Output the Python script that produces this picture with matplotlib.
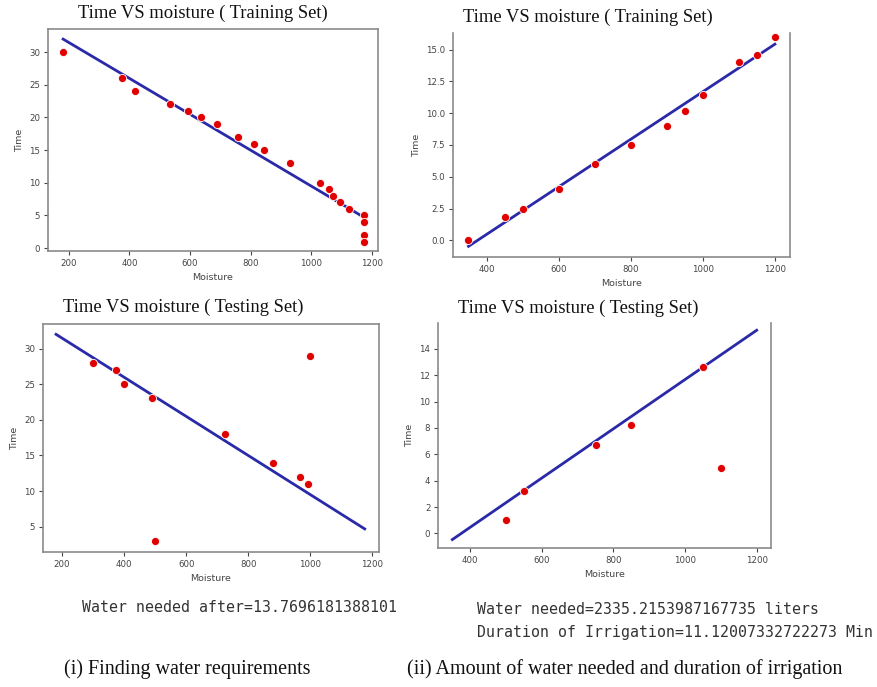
import numpy as np
import matplotlib
matplotlib.use("Agg")
import matplotlib.pyplot as plt
from matplotlib.ticker import FormatStrFormatter

# ---------------- data ----------------
# (i) training set
train1_moisture = [181, 377, 418, 535, 594, 637, 690, 757, 811, 844, 931, 1028, 1059, 1074, 1097, 1125, 1175, 1175, 1175, 1175]
train1_time = [30, 26, 24, 22, 21, 20, 19, 17, 16, 15, 13, 10, 9, 8, 7, 6, 5, 4, 2, 1]
fit1_slope = -0.027465
fit1_intercept = 36.971

# (i) testing set
test1_moisture = [300, 375, 400, 490, 500, 725, 880, 965, 992, 1000]
test1_time = [28, 27, 25, 23, 3, 18, 14, 12, 11, 29]

# (ii) training set
train2_moisture = [350, 450, 500, 600, 700, 800, 900, 950, 1000, 1100, 1150, 1200]
train2_time = [0.0, 1.8, 2.5, 4.0, 6.0, 7.5, 9.0, 10.2, 11.4, 14.0, 14.6, 16.0]
fit2_slope = 0.018694
fit2_intercept = -7.013

# (ii) testing set
test2_moisture = [500, 550, 750, 850, 1050, 1100]
test2_time = [1.0, 3.2, 6.7, 8.2, 12.6, 5.0]

titles = ["Time VS moisture ( Training Set)", "Time VS moisture ( Training Set)",
          "Time VS moisture ( Testing Set)", "Time VS moisture ( Testing Set)"]
out_text1 = "Water needed after=13.7696181388101"
out_text2 = "Water needed=2335.2153987167735 liters"
out_text3 = "Duration of Irrigation=11.12007332722273 Min"
caption1 = "(i) Finding water requirements"
caption2 = "(ii) Amount of water needed and duration of irrigation"

# ---------------- figure ----------------
W, H = 877, 687
fig = plt.figure(figsize=(W / 100, H / 100), dpi=100)
fig.patch.set_facecolor("white")

def px_axes(l, t, r, b):
    return fig.add_axes([l / W, 1 - b / H, (r - l) / W, (b - t) / H])

SCAT = "#e00000"
LINE = "#2a2aa8"
SPINE = "#8a8a8a"
TICKC = "#444444"

def style(ax, hide_top=False):
    for s in ax.spines.values():
        s.set_color(SPINE)
        s.set_linewidth(1.2)
    if hide_top:
        ax.spines["top"].set_visible(False)
    ax.tick_params(labelsize=6.2, colors=TICKC, length=3, width=0.8, pad=2.5)
    ax.set_xlabel("Moisture", fontsize=6.8, color=TICKC, labelpad=4)
    ax.set_ylabel("Time", fontsize=6.8, color=TICKC, labelpad=4)

def draw(ax, xs, ys, fx, slope, intercept):
    xr = np.array([min(fx), max(fx)], dtype=float)
    ax.plot(xr, intercept + slope * xr, color=LINE, lw=2.0, zorder=2)
    ax.scatter(xs, ys, s=34, color=SCAT, edgecolors="white", linewidths=0.6, zorder=3)

# panel 1
ax1 = px_axes(48, 29, 378, 251)
draw(ax1, train1_moisture, train1_time, train1_moisture, fit1_slope, fit1_intercept)
ax1.set_xlim(131, 1221)
ax1.set_ylim(-0.45, 33.55)
ax1.set_xticks(range(200, 1201, 200))
ax1.set_yticks(range(0, 31, 5))
style(ax1)

# panel 2
ax2 = px_axes(453, 33, 790, 257)
draw(ax2, train2_moisture, train2_time, train2_moisture, fit2_slope, fit2_intercept)
ax2.set_xlim(307, 1242)
ax2.set_ylim(-1.31, 16.3)
ax2.set_xticks(range(400, 1201, 200))
ax2.set_yticks(np.arange(0, 15.1, 2.5))
ax2.yaxis.set_major_formatter(FormatStrFormatter("%.1f"))
style(ax2, hide_top=True)

# panel 3
ax3 = px_axes(43, 324, 379, 552)
draw(ax3, test1_moisture, test1_time, train1_moisture, fit1_slope, fit1_intercept)
ax3.set_xlim(139, 1221)
ax3.set_ylim(1.46, 33.45)
ax3.set_xticks(range(200, 1201, 200))
ax3.set_yticks(range(5, 31, 5))
style(ax3)

# panel 4
ax4 = px_axes(438, 323, 771, 548)
draw(ax4, test2_moisture, test2_time, train2_moisture, fit2_slope, fit2_intercept)
ax4.set_xlim(310, 1240)
ax4.set_ylim(-1.11, 15.97)
ax4.set_xticks(range(400, 1201, 200))
ax4.set_yticks(range(0, 15, 2))
style(ax4, hide_top=True)

# titles
serif = ["Liberation Serif", "DejaVu Serif"]
title_pos = [(203, 13.5), (588, 17.5), (183, 307), (578, 308)]
for t, (x, y) in zip(titles, title_pos):
    fig.text(x / W, 1 - y / H, t, ha="center", va="center", fontsize=13.4,
             family=serif, color="#111111")

mono = ["DejaVu Sans Mono", "Liberation Mono"]
fig.text(82 / W, 1 - 607 / H, out_text1, ha="left", va="center", fontsize=10.75, family=mono, color="#333333")
fig.text(477 / W, 1 - 610 / H, out_text2, ha="left", va="center", fontsize=10.75, family=mono, color="#333333")
fig.text(477 / W, 1 - 632 / H, out_text3, ha="left", va="center", fontsize=10.75, family=mono, color="#333333")

fig.text(64 / W, 1 - 669 / H, caption1, ha="left", va="center", fontsize=14.5, family=serif, color="#111111")
fig.text(407 / W, 1 - 669 / H, caption2, ha="left", va="center", fontsize=14.5, family=serif, color="#111111")

fig.savefig("out.png", dpi=100, facecolor="white")
